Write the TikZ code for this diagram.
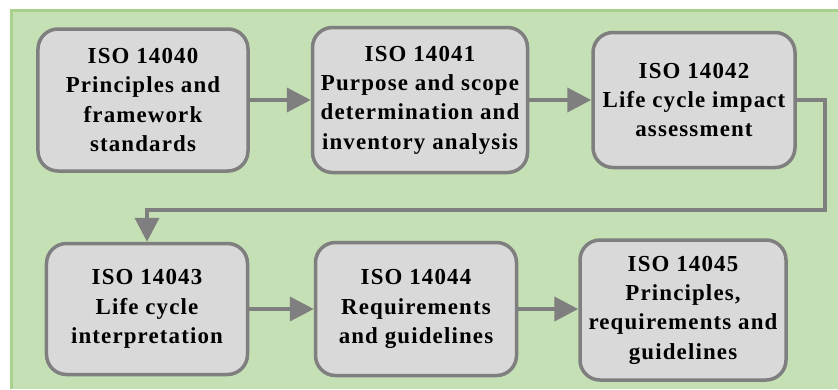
\documentclass[tikz,border=0pt]{standalone}
\usepackage{fontspec}
\setmainfont{Liberation Serif}
\newfontfamily\isofont[LetterSpace=5]{Liberation Serif}
\usetikzlibrary{arrows.meta}
\usetikzlibrary{positioning}
\definecolor{bggreen}{HTML}{C5E0B4}
\definecolor{edgegreen}{HTML}{A9D18E}
\definecolor{boxgray}{HTML}{D9D9D9}
\definecolor{linegray}{HTML}{7F7F7F}
\tikzset{isobox/.style={draw=linegray,fill=boxgray,line width=3.5bp,rounded corners=20bp,align=center,font=\isofont\fontsize{23}{29.5}\selectfont\bfseries,inner sep=0pt}}
\tikzset{flow/.style={draw=linegray,line width=4bp,-{Triangle[length=24bp,width=24bp]}}}

\begin{document}
\begin{tikzpicture}[x=1bp,y=-1bp]
        \useasboundingbox (0,0) rectangle (838,389);
        \fill[bggreen] (10,9) rectangle (838,389);
        \draw[edgegreen,line width=3bp] (11.5,389) -- (11.5,10.5) -- (838,10.5);
        \node[isobox,minimum width=210bp,minimum height=142bp] (iso40) at (143,100) {ISO 14040\\Principles and\\framework\\standards};
        \node[isobox,minimum width=215bp,minimum height=145bp] (iso41) at (420,100) {ISO 14041\\Purpose and scope\\determination and\\inventory analysis};
        \node[isobox,minimum width=202bp,minimum height=135bp] (iso42) at (694,100) {ISO 14042\\Life cycle impact\\assessment};
        \node[isobox,minimum width=201bp,minimum height=131bp] (iso43) at (147,309) {ISO 14043\\Life cycle\\interpretation};
        \node[isobox,minimum width=201bp,minimum height=133bp] (iso44) at (416,309) {ISO 14044\\Requirements\\and guidelines};
        \node[isobox,minimum width=206bp,minimum height=140bp] (iso45) at (683,310) {ISO 14045\\Principles,\\requirements and\\guidelines};
        \coordinate (turn) at (825,210);
        \draw[flow] (iso40) -- (iso41);
        \draw[flow] (iso41) -- (iso42);
        \draw[flow] (iso42.east) -| (turn) -| (iso43.north);
        \draw[flow] (iso43) -- (iso44);
        \draw[flow] (iso44.east) -- (iso45.west |- iso44.east);
\end{tikzpicture}
\end{document}
